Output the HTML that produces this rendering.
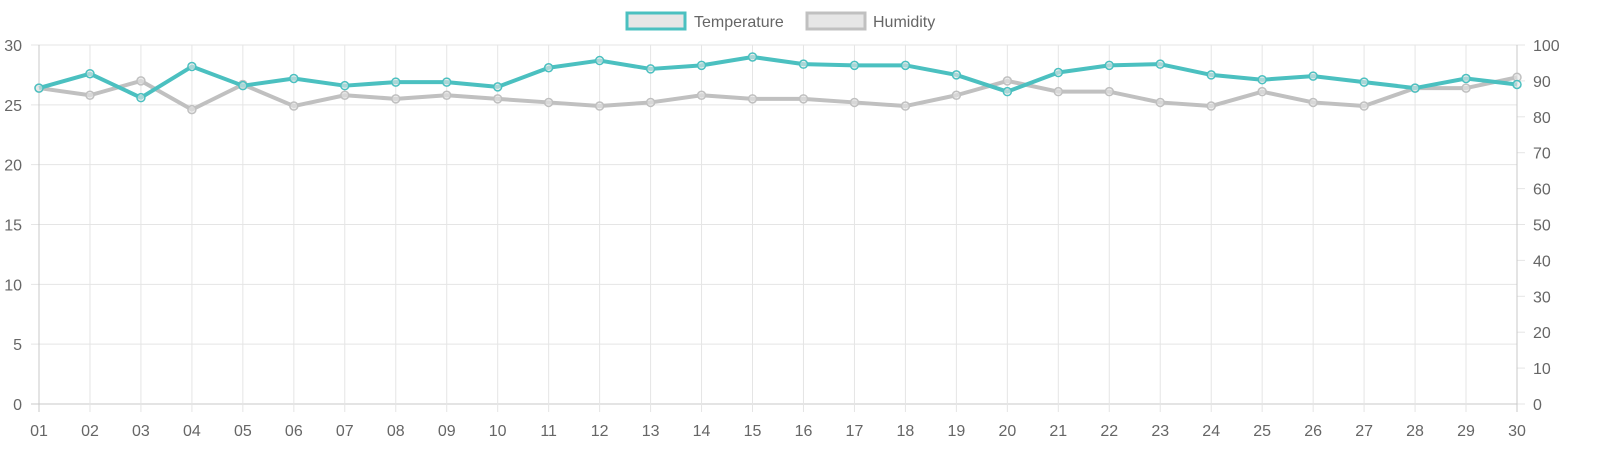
<!DOCTYPE html>
<html><head><meta charset="utf-8"><style>
html,body{margin:0;padding:0;background:#fff;width:1619px;height:461px;overflow:hidden}
svg{display:block;font-family:"Liberation Sans",Arial,sans-serif}
</style></head><body>
<svg id="chart" width="1619" height="461">
<g id="grid"></g>
<g id="axes"></g>
<g id="series"></g>
<g>
 <g>
  <rect x="627" y="13" width="58" height="16" fill="#e6e6e6" stroke="#4bc0c0" stroke-width="3"/>
  <text x="694" y="27" font-size="16" fill="#666">Temperature</text>
 </g>
 <g>
  <rect x="807" y="13" width="58" height="16" fill="#e6e6e6" stroke="#c0c0c0" stroke-width="3"/>
  <text x="873" y="27" font-size="16" fill="#666">Humidity</text>
 </g>
</g>
</svg>
<script>
const categories=["01","02","03","04","05","06","07","08","09","10","11","12","13","14","15","16","17","18","19","20","21","22","23","24","25","26","27","28","29","30"];
const temperature=[26.4,27.6,25.6,28.2,26.6,27.2,26.6,26.9,26.9,26.5,28.1,28.7,28.0,28.3,29.0,28.4,28.3,28.3,27.5,26.1,27.7,28.3,28.4,27.5,27.1,27.4,26.9,26.4,27.2,26.7];
const humidity=[88,86,90,82,89,83,86,85,86,85,84,83,84,86,85,85,84,83,86,90,87,87,84,83,87,84,83,88,88,91];
const leftTicks=[0,5,10,15,20,25,30];
const rightTicks=[0,10,20,30,40,50,60,70,80,90,100];
const NS="http://www.w3.org/2000/svg";
const L=39,R=1517,T=45,B=404;
const x=i=>L+(R-L)*i/(categories.length-1);
const yL=v=>B-(B-T)*v/30;
const yR=v=>B-(B-T)*v/100;
function mk(tag,attrs,parent){const e=document.createElementNS(NS,tag);for(const k in attrs)e.setAttribute(k,attrs[k]);parent.appendChild(e);return e;}
const grid=document.getElementById('grid'),axes=document.getElementById('axes'),series=document.getElementById('series');
leftTicks.forEach(v=>{
 const l=mk('line',{x1:31,x2:R,y1:yL(v),y2:yL(v),stroke:v===0?'#c8c8c8':'#e5e5e5','stroke-width':1},grid);
 
 
 const t=mk('text',{x:22,y:yL(v)+6,'text-anchor':'end','font-size':16,fill:'#666'},axes);
 t.textContent=v;
 
 
});
rightTicks.forEach(v=>{
 const l=mk('line',{x1:R,x2:R+8,y1:yR(v),y2:yR(v),stroke:'#e5e5e5','stroke-width':1},grid);
 
 
 const t=mk('text',{x:1533,y:yR(v)+6,'text-anchor':'start','font-size':16,fill:'#666'},axes);
 t.textContent=v;
 
 
});
categories.forEach((c,i)=>{
 const l=mk('line',{x1:x(i),x2:x(i),y1:T,y2:412,stroke:(i===0||i===categories.length-1)?'#c8c8c8':'#e5e5e5','stroke-width':1},grid);
 
 
 const t=mk('text',{x:x(i),y:436,'text-anchor':'middle','font-size':16,fill:'#666'},axes);
 t.textContent=c;
 
 
});
function drawSeries(vals,yf,color,name){
 const p=mk('polyline',{points:vals.map((v,i)=>x(i)+','+yf(v)).join(' '),fill:'none',stroke:color,'stroke-width':4,'stroke-linejoin':'round'},series);
 
 
 vals.forEach((v,i)=>{
  const c=mk('circle',{cx:x(i),cy:yf(v),r:4,fill:'rgba(230,230,230,0.6)',stroke:color,'stroke-width':1.5},series);
  
  
 });
}
drawSeries(humidity,yR,'#c0c0c0','humidity');
drawSeries(temperature,yL,'#4bc0c0','temperature');
</script>
</body></html>
